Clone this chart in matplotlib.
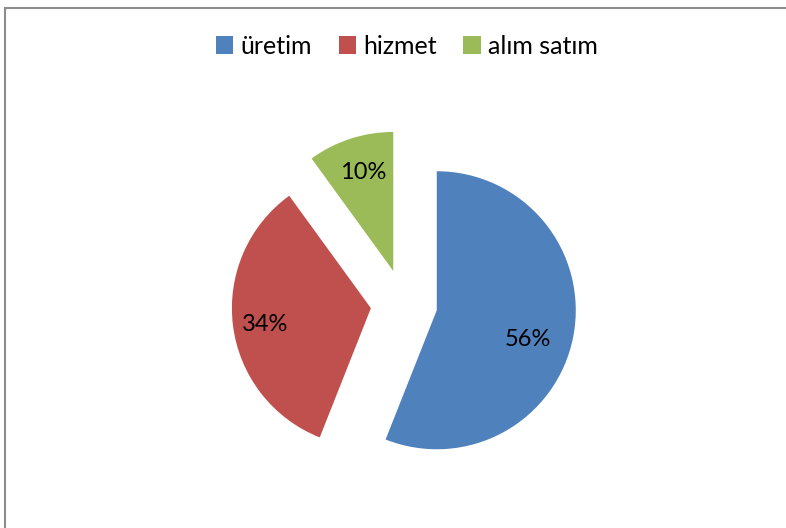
import numpy as np
import matplotlib.pyplot as plt
from matplotlib.patches import Patch, Rectangle

# Data
labels = ['üretim', 'hizmet', 'alım satım']
shares = [56, 34, 10]
colors = ['#4F81BD', '#C0504D', '#9BBB59']
explode = [0.24, 0.24, 0.25]

plt.rcParams['font.family'] = ['Lato', 'DejaVu Sans']

fig = plt.figure(figsize=(7.86, 5.28), dpi=100)
ax = fig.add_axes([0, 0, 1, 1])

wedges, texts, autotexts = ax.pie(
    shares, colors=colors, explode=explode, startangle=90, counterclock=False,
    autopct='%d%%', pctdistance=0.73, radius=1.0,
    textprops={'fontsize': 17, 'color': 'black'})

# nudge labels to where the original puts them (distance, angle from wedge apex)
label_pos = [(0.69, -17.5), (0.77, 189.0), (0.74, 107.0)]
for w, t, (d, a) in zip(wedges, autotexts, label_pos):
    x0, y0 = w.center
    t.set_position((x0 + d * np.cos(np.radians(a)), y0 + d * np.sin(np.radians(a))))

# pixel-matched limits: radius = 139 px, centre at (404, 304) from top-left
r_px = 139.0
cx, cy = 404.0, 304.0
ax.set_xlim(-cx / r_px, (786 - cx) / r_px)
ax.set_ylim(-(528 - cy) / r_px, cy / r_px)
ax.set_aspect('auto')
ax.axis('off')

# chart frame (only left and top edges visible)
fig.patches.append(Rectangle((5 / 786, -0.1), 1.2, 1 - 8 / 528 + 0.1,
                             transform=fig.transFigure, fill=False,
                             edgecolor='#8c8c8c', linewidth=1.5))

handles = [Patch(facecolor=c, edgecolor='none') for c in colors]
fig.legend(handles, labels, loc='center', bbox_to_anchor=(407 / 786, 1 - 46 / 528),
           ncol=3, frameon=False, fontsize=18, handlelength=0.7, handleheight=0.7,
           handletextpad=0.3, columnspacing=1.05)

plt.savefig('out.png', dpi=100)
